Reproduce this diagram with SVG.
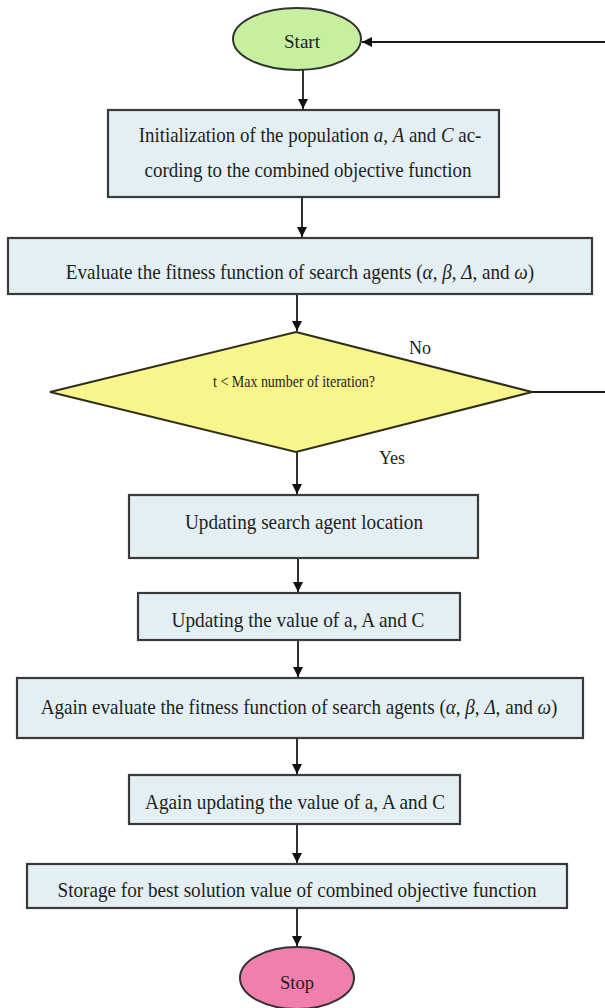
<svg xmlns="http://www.w3.org/2000/svg" width="605" height="1008" viewBox="0 0 605 1008">
<defs>
<marker id="arr" viewBox="0 0 10 10" refX="10" refY="5" markerWidth="10" markerHeight="10" markerUnits="userSpaceOnUse" orient="auto">
<path d="M0,0 L10,5 L0,10 z" fill="#111"/>
</marker>
</defs>
<style>
.box{fill:#e3eff3;stroke:#3a3a3a;stroke-width:2.2}
.t{font-family:"Liberation Serif","Times New Roman",serif;font-size:21px;fill:#1e1e1e;text-anchor:middle}
.i{font-style:italic}
.lbl{font-family:"Liberation Serif","Times New Roman",serif;font-size:18px;fill:#1e1e1e;text-anchor:middle}
.c{stroke:#1a1a1a;stroke-width:1.8;fill:none}
</style>
<rect width="605" height="1008" fill="#ffffff"/>
<g id="connectors">
<line class="c" x1="303" y1="70" x2="303" y2="109" marker-end="url(#arr)"/>
<line class="c" x1="302" y1="198" x2="302" y2="237" marker-end="url(#arr)"/>
<line class="c" x1="297" y1="295" x2="297" y2="331" marker-end="url(#arr)"/>
<line class="c" x1="297" y1="452" x2="297" y2="494" marker-end="url(#arr)"/>
<line class="c" x1="298" y1="559" x2="298" y2="592" marker-end="url(#arr)"/>
<line class="c" x1="298" y1="641" x2="298" y2="677" marker-end="url(#arr)"/>
<line class="c" x1="297" y1="739" x2="297" y2="774" marker-end="url(#arr)"/>
<line class="c" x1="297" y1="825" x2="297" y2="863" marker-end="url(#arr)"/>
<line class="c" x1="297" y1="909" x2="297" y2="946" marker-end="url(#arr)"/>
<line class="c" x1="532" y1="392" x2="605" y2="392"/>
<line class="c" x1="605" y1="42" x2="362" y2="42" marker-end="url(#arr)"/>
<text class="lbl" x="420" y="354">No</text>
<text class="lbl" x="392" y="464">Yes</text>
</g>
<g id="start">
<ellipse cx="297" cy="39" rx="64" ry="31" fill="#c6efa0" stroke="#333" stroke-width="2"/>
<text class="lbl" x="302" y="48" textLength="36" lengthAdjust="spacingAndGlyphs">Start</text>
</g>
<g id="init">
<rect class="box" x="108" y="110" width="391" height="87"/>
<text class="t" transform="translate(310,142) scale(0.9,1)" x="0" y="0">Initialization of the population <tspan class="i">a</tspan>, <tspan class="i">A</tspan> and <tspan class="i">C</tspan> ac-</text>
<text class="t" x="308" y="177" textLength="327" lengthAdjust="spacingAndGlyphs">cording to the combined objective function</text>
</g>
<g id="evaluate">
<rect class="box" x="8" y="238" width="584" height="56"/>
<text class="t" transform="translate(300,279) scale(0.91,1)" x="0" y="0">Evaluate the fitness function of search agents (<tspan class="i">α</tspan>, <tspan class="i">β</tspan>, <tspan class="i">Δ</tspan>, and <tspan class="i">ω</tspan>)</text>
</g>
<g id="decision">
<polygon points="296,332 532,392 296,452 50,392" fill="#f7f58c" stroke="#2e2e1a" stroke-width="2"/>
<text x="294" y="387" font-family="'Liberation Serif','Times New Roman',serif" font-size="16" fill="#1e1e1e" text-anchor="middle" textLength="162" lengthAdjust="spacingAndGlyphs">t &lt; Max number of iteration?</text>
</g>
<g id="update-location">
<rect class="box" x="129" y="495" width="349" height="63"/>
<text class="t" x="304" y="529" textLength="238" lengthAdjust="spacingAndGlyphs">Updating search agent location</text>
</g>
<g id="update-value">
<rect class="box" x="138" y="593" width="322" height="47"/>
<text class="t" x="298" y="627" textLength="253" lengthAdjust="spacingAndGlyphs">Updating the value of a, A and C</text>
</g>
<g id="again-evaluate">
<rect class="box" x="17" y="678" width="566" height="60"/>
<text class="t" transform="translate(299,714) scale(0.91,1)" x="0" y="0">Again evaluate the fitness function of search agents (<tspan class="i">α</tspan>, <tspan class="i">β</tspan>, <tspan class="i">Δ</tspan>, and <tspan class="i">ω</tspan>)</text>
</g>
<g id="again-update">
<rect class="box" x="129" y="775" width="331" height="49"/>
<text class="t" x="295" y="809" textLength="300" lengthAdjust="spacingAndGlyphs">Again updating the value of a, A and C</text>
</g>
<g id="storage">
<rect class="box" x="27" y="864" width="540" height="44"/>
<text class="t" x="297" y="897" textLength="479" lengthAdjust="spacingAndGlyphs">Storage for best solution value of combined objective function</text>
</g>
<g id="stop">
<ellipse cx="297" cy="978" rx="57" ry="31" fill="#f07fae" stroke="#333" stroke-width="2"/>
<text class="lbl" x="297" y="989" textLength="34" lengthAdjust="spacingAndGlyphs">Stop</text>
</g>
</svg>
